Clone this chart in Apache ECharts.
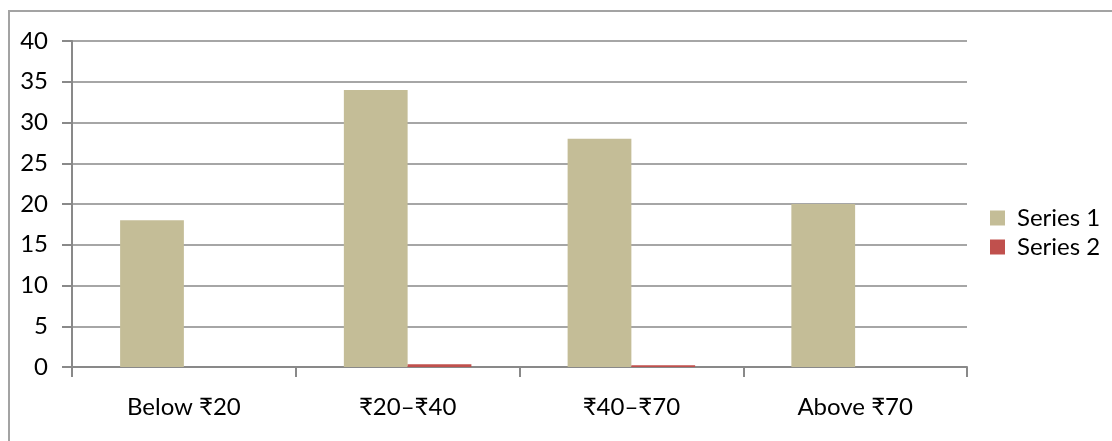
<!DOCTYPE html>
<html>
<head>
<meta charset="utf-8">
<script src="https://cdn.jsdelivr.net/npm/echarts@6/dist/echarts.min.js"></script>
<style>
  html, body { margin: 0; padding: 0; background: #ffffff; }
  #chart { width: 1112px; height: 441px; }
</style>
</head>
<body>
<div id="chart"></div>
<script>
// Price bands and the two series plotted against them
const categories = ['Below ₹20', '₹20–₹40', '₹40–₹70', 'Above ₹70'];
const series1 = [18, 34, 28, 20];
const series2 = [0, 0.35, 0.2, 0];
const seriesNames = ['Series 1', 'Series 2'];

const FONT = 'Lato, Carlito, "Noto Sans", sans-serif';
const FONT_SIZE = 24;
const GRID_GREY = '#898989';

const chart = echarts.init(document.getElementById('chart'), null, { renderer: 'canvas' });

chart.setOption({
  animation: false,
  backgroundColor: '#ffffff',
  textStyle: { fontFamily: FONT },
  graphic: [{
    type: 'rect',
    silent: true,
    shape: { x: 9, y: 11, width: 1130, height: 450 },
    style: { fill: 'none', stroke: '#a3a3a3', lineWidth: 2 }
  }],
  grid: { left: 72, top: 41, right: 145, bottom: 74, containLabel: false },
  legend: {
    orient: 'vertical',
    left: 990,
    top: 206,
    padding: 0,
    icon: 'rect',
    itemWidth: 15,
    itemHeight: 15,
    itemGap: 5,
    data: seriesNames,
    textStyle: { fontFamily: FONT, fontSize: FONT_SIZE, color: '#000000', padding: [0, 0, 0, 7] }
  },
  xAxis: {
    type: 'category',
    data: categories,
    axisLine: { lineStyle: { color: GRID_GREY, width: 2 } },
    axisTick: { show: true, length: 10, alignWithLabel: false, lineStyle: { color: GRID_GREY, width: 2 } },
    axisLabel: { color: '#000000', fontFamily: FONT, fontSize: FONT_SIZE, margin: 28 },
    splitLine: { show: false }
  },
  yAxis: {
    type: 'value',
    min: 0,
    max: 40,
    interval: 5,
    axisLine: { show: true, lineStyle: { color: GRID_GREY, width: 2 } },
    axisTick: { show: true, length: 10, lineStyle: { color: GRID_GREY, width: 2 } },
    axisLabel: { color: '#000000', fontFamily: FONT, fontSize: FONT_SIZE, margin: 24 },
    splitLine: { show: true, lineStyle: { color: GRID_GREY, width: 1.5 } }
  },
  series: [
    {
      name: seriesNames[0],
      type: 'bar',
      data: series1,
      barGap: '0%',
      barCategoryGap: '43%',
      itemStyle: { color: '#C4BD97' }
    },
    {
      name: seriesNames[1],
      type: 'bar',
      data: series2,
      barGap: '0%',
      barCategoryGap: '43%',
      itemStyle: { color: '#C0504D' }
    }
  ]
});
</script>
</body>
</html>
